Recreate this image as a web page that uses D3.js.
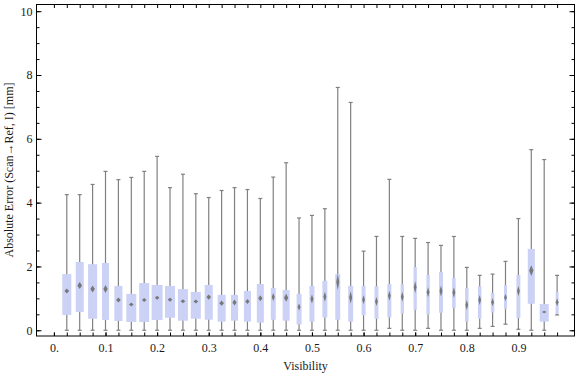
<!DOCTYPE html>
<html lang="en">
<head>
  <meta charset="UTF-8">
  <title>Absolute error vs visibility</title>
  <script src="https://d3js.org/d3.v7.min.js"></script>
  <style>
    body {
      margin: 0;
      background: #fff;
    }

    svg text {
      font-family: "Liberation Serif", "DejaVu Serif", serif;
      font-size: 12px;
      fill: #1a1a1a;
    }

    .axis path {
      display: none;
    }

    .axis line {
      stroke: #000;
      stroke-width: 1px;
    }

    .whisker {
      stroke: #808080;
      stroke-width: 1.2px;
    }

    .box {
      fill: #cbd2f5;
    }

    .notch {
      fill: #787878;
    }
  </style>
</head>
<body>

  <svg id="chart" width="576" height="377"></svg>

  <script>
    // Data
    const visibility = [0.025, 0.05, 0.075, 0.1, 0.125, 0.15, 0.175, 0.2, 0.225, 0.25,
      0.275, 0.3, 0.325, 0.35, 0.375, 0.4, 0.425, 0.45, 0.475, 0.5,
      0.525, 0.55, 0.575, 0.6, 0.625, 0.65, 0.675, 0.7, 0.725, 0.75,
      0.775, 0.8, 0.825, 0.85, 0.875, 0.9, 0.925, 0.95, 0.975];

    const whiskerLow = [0, 0, 0, 0, 0, 0, 0, 0, 0, 0,
      0, 0, 0, 0, 0, 0, 0, 0, 0, 0,
      0, 0, 0, 0, 0, 0.06, 0, 0, 0.06, 0,
      0, 0, 0.06, 0.12, 0.19, 0.03, 0, 0, 0.48];

    const q1 = [0.48, 0.57, 0.36, 0.32, 0.29, 0.26, 0.26, 0.32, 0.39, 0.30,
      0.36, 0.33, 0.27, 0.30, 0.27, 0.24, 0.33, 0.30, 0.18, 0.27,
      0.40, 0.33, 0.27, 0.47, 0.36, 0.40, 0.52, 0.64, 0.49, 0.55,
      0.70, 0.27, 0.36, 0.56, 0.67, 0.38, 0.83, 0.27, 0.51];

    const median = [1.23, 1.40, 1.29, 1.29, 0.95, 0.81, 0.95, 1.02, 0.96, 0.91,
      0.90, 1.04, 0.85, 0.87, 0.90, 1.00, 1.04, 1.02, 0.73, 0.98,
      1.05, 1.51, 1.03, 0.96, 0.90, 1.08, 1.05, 1.35, 1.19, 1.23,
      1.18, 0.79, 0.95, 0.88, 1.03, 1.23, 1.87, 0.57, 0.88];

    const q3 = [1.76, 2.14, 2.07, 2.11, 1.39, 1.14, 1.48, 1.42, 1.39, 1.29,
      1.20, 1.42, 1.11, 1.11, 1.23, 1.45, 1.33, 1.26, 1.14, 1.39,
      1.55, 1.76, 1.39, 1.39, 1.38, 1.45, 1.44, 1.98, 1.73, 1.83,
      1.64, 1.33, 1.38, 1.17, 1.42, 1.73, 2.55, 0.82, 1.20];

    const whiskerHigh = [4.25, 4.25, 4.57, 4.98, 4.72, 4.79, 4.98, 5.45, 4.47, 4.89,
      4.28, 4.16, 4.38, 4.47, 4.41, 4.13, 4.80, 5.25, 3.52, 3.60,
      3.81, 7.61, 7.14, 2.48, 2.94, 4.73, 2.94, 2.88, 2.75, 2.66,
      2.94, 1.97, 1.72, 1.76, 2.16, 3.50, 5.66, 5.35, 1.72];

    // half-height of the median notch (data units)
    const notch = [0.08, 0.11, 0.11, 0.125, 0.08, 0.063, 0.063, 0.063, 0.063, 0.063,
      0.063, 0.08, 0.08, 0.094, 0.08, 0.094, 0.125, 0.125, 0.11, 0.14,
      0.157, 0.25, 0.2, 0.14, 0.14, 0.157, 0.157, 0.19, 0.157, 0.17,
      0.17, 0.157, 0.157, 0.125, 0.11, 0.157, 0.17, 0.04, 0.125];

    // relative sample share, drives box width
    const weight = [0.82, 0.73, 0.82, 0.64, 0.73, 0.91, 0.91, 1, 0.91, 0.91,
      0.91, 0.73, 0.73, 0.64, 0.64, 0.64, 0.45, 0.64, 0.45, 0.45,
      0.45, 0.45, 0.45, 0.36, 0.36, 0.36, 0.3, 0.3, 0.3, 0.36,
      0.32, 0.32, 0.32, 0.32, 0.27, 0.36, 0.64, 0.82, 0.27];

    const xMajor = [0, 0.1, 0.2, 0.3, 0.4, 0.5, 0.6, 0.7, 0.8, 0.9];
    const xMajorLabels = ["0.", "0.1", "0.2", "0.3", "0.4", "0.5", "0.6", "0.7", "0.8", "0.9"];
    const yMajor = [0, 2, 4, 6, 8, 10];

    const svg = d3.select("#chart");

    const frame = { left: 36.5, right: 574.5, top: 4.5, bottom: 336 };

    const x = d3.scaleLinear().domain([-0.0337, 1.0087]).range([frame.left, frame.right]);
    const y = d3.scaleLinear().domain([-0.18, 10.21]).range([frame.bottom, frame.top]);
    const w = d3.scaleLinear().domain([0, 1]).range([0, 11]);

    const xMinor = d3.range(0, 40).map(i => +(i * 0.025).toFixed(3));
    const yMinor = d3.range(0, 21).map(i => i * 0.5);

    // Axes (ticks pointing inward, frame drawn separately)
    svg.append("g").attr("class", "axis")
      .attr("transform", `translate(0,${frame.bottom})`)
      .call(d3.axisBottom(x).tickValues(xMinor).tickSizeInner(-3.5).tickSizeOuter(0).tickFormat(""));

    const xLab = svg.append("g").attr("class", "axis")
      .attr("transform", `translate(0,${frame.bottom})`)
      .call(d3.axisBottom(x).tickValues(xMajor).tickSizeInner(-3.5).tickSizeOuter(0).tickPadding(7.5)
        .tickFormat((d, i) => xMajorLabels[i]));
    xLab.selectAll("text").attr("fill", null);

    svg.append("g").attr("class", "axis")
      .attr("transform", `translate(0,${frame.top})`)
      .call(d3.axisTop(x).tickValues(xMinor).tickSizeInner(-3.5).tickSizeOuter(0).tickFormat(""));

    svg.append("g").attr("class", "axis")
      .attr("transform", `translate(${frame.left},0)`)
      .call(d3.axisLeft(y).tickValues(yMinor).tickSizeInner(-3).tickSizeOuter(0).tickFormat(""));

    const yLab = svg.append("g").attr("class", "axis")
      .attr("transform", `translate(${frame.left},0)`)
      .call(d3.axisLeft(y).tickValues(yMajor).tickSizeInner(-5).tickSizeOuter(0).tickPadding(4));
    yLab.selectAll("text").attr("fill", null);

    svg.append("g").attr("class", "axis")
      .attr("transform", `translate(${frame.right},0)`)
      .call(d3.axisRight(y).tickValues(yMinor).tickSizeInner(-3).tickSizeOuter(0).tickFormat(""));

    svg.append("g").attr("class", "axis")
      .attr("transform", `translate(${frame.right},0)`)
      .call(d3.axisRight(y).tickValues(yMajor).tickSizeInner(-5).tickSizeOuter(0).tickFormat(""));

    // Frame
    svg.append("rect")
      .attr("x", frame.left).attr("y", frame.top)
      .attr("width", frame.right - frame.left).attr("height", frame.bottom - frame.top)
      .attr("fill", "none").attr("stroke", "#000").attr("stroke-width", 1);

    // Soft edge for the notch marker
    svg.append("defs").append("filter").attr("id", "soft")
      .append("feGaussianBlur").attr("stdDeviation", 0.45);

    const rows = visibility.map((v, i) => ({
      v, lo: whiskerLow[i], q1: q1[i], med: median[i], q3: q3[i],
      hi: whiskerHigh[i], n: notch[i], wt: weight[i]
    }));

    const g = svg.append("g");
    const item = g.selectAll("g.item").data(rows).enter().append("g").attr("class", "item");

    item.append("line").attr("class", "whisker")
      .attr("x1", d => x(d.v)).attr("x2", d => x(d.v))
      .attr("y1", d => y(d.lo)).attr("y2", d => y(d.hi));

    item.append("line").attr("class", "whisker")
      .attr("x1", d => x(d.v) - 2).attr("x2", d => x(d.v) + 2)
      .attr("y1", d => y(d.hi)).attr("y2", d => y(d.hi));

    item.append("line").attr("class", "whisker")
      .attr("x1", d => x(d.v) - 2).attr("x2", d => x(d.v) + 2)
      .attr("y1", d => y(d.lo)).attr("y2", d => y(d.lo));

    item.append("rect").attr("class", "box")
      .attr("x", d => x(d.v) - w(d.wt) / 2)
      .attr("width", d => w(d.wt))
      .attr("y", d => y(d.q3))
      .attr("height", d => y(d.q1) - y(d.q3));

    item.append("path").attr("class", "notch")
      .attr("filter", "url(#soft)")
      .attr("d", d => {
        const cx = x(d.v), hw = Math.max(1.4, Math.min(2.3, w(d.wt) * 0.3));
        return `M${cx},${y(d.med + d.n)} L${cx + hw},${y(d.med)} L${cx},${y(d.med - d.n)} L${cx - hw},${y(d.med)} Z`;
      });

    // Axis titles
    svg.append("text")
      .attr("x", (frame.left + frame.right) / 2).attr("y", 370)
      .attr("text-anchor", "middle")
      .text("Visibility");

    svg.append("text")
      .attr("transform", `translate(13,${170}) rotate(-90)`)
      .attr("text-anchor", "middle")
      .text("Absolute Error (Scan\u2192Ref, I) [mm]");
  </script>

</body>
</html>
